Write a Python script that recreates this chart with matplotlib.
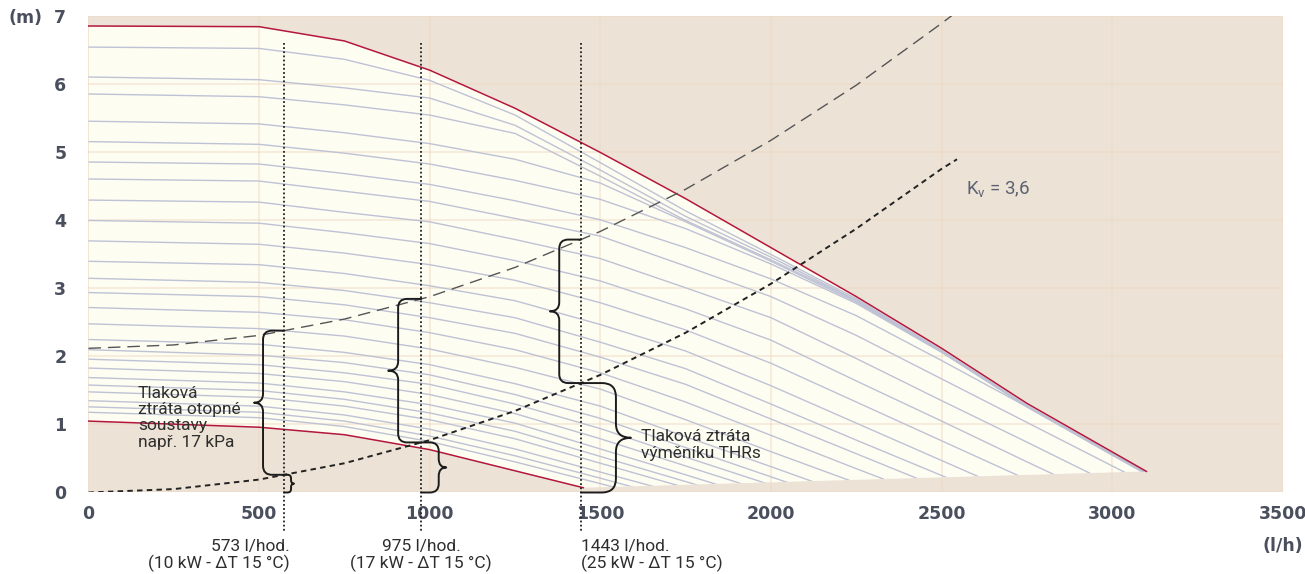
"""
Pump head chart of the circulator with system and THR losses.
"""
import numpy as np
import matplotlib.pyplot as plt
from matplotlib.path import Path
from matplotlib.patches import Polygon, PathPatch

plt.rcParams['mathtext.default'] = 'regular'

# max / min pump curve, head (m) over flow (l/h)
MAX_Q = [0, 500, 750, 1000, 1250, 1500, 1750, 2000, 2250, 2500, 2750, 3100]
MAX_H = [6.86, 6.85, 6.64, 6.21, 5.65, 5.00, 4.32, 3.60, 2.88, 2.12, 1.31, 0.31]
MIN_Q = [0, 500, 750, 1000, 1450]
MIN_H = [1.05, 0.96, 0.85, 0.63, 0.07]
END_Q = [1450, 3100]
END_H = [0.07, 0.31]

# intermediate speed steps, sampled on a common flow grid
STEP_Q = [0, 500, 750, 1000, 1250, 1500, 1750, 2000, 2250, 2500, 2750, 3000, 3250]
STEP_H = [
    [1.18, 1.10, 0.97, 0.75, 0.45, 0.13, -0.20],
    [1.26, 1.18, 1.05, 0.83, 0.54, 0.21, -0.13],
    [1.35, 1.27, 1.14, 0.93, 0.64, 0.30, -0.04, -0.39],
    [1.48, 1.40, 1.27, 1.07, 0.79, 0.43, 0.07, -0.29],
    [1.58, 1.50, 1.37, 1.17, 0.90, 0.53, 0.16, -0.21],
    [1.69, 1.61, 1.48, 1.29, 1.02, 0.64, 0.26, -0.13],
    [1.83, 1.75, 1.63, 1.44, 1.16, 0.79, 0.39, -0.01, -0.41],
    [1.96, 1.88, 1.76, 1.59, 1.30, 0.94, 0.52, 0.11, -0.31],
    [2.10, 2.02, 1.91, 1.73, 1.44, 1.09, 0.66, 0.23, -0.20],
    [2.25, 2.18, 2.06, 1.88, 1.60, 1.27, 0.82, 0.38, -0.07, -0.51],
    [2.48, 2.41, 2.30, 2.11, 1.84, 1.52, 1.07, 0.60, 0.14, -0.33],
    [2.72, 2.65, 2.54, 2.35, 2.10, 1.76, 1.33, 0.84, 0.35, -0.13],
    [2.94, 2.88, 2.76, 2.57, 2.34, 1.99, 1.59, 1.08, 0.57, 0.06, -0.45],
    [3.15, 3.09, 2.97, 2.79, 2.57, 2.21, 1.82, 1.30, 0.77, 0.25, -0.28],
    [3.40, 3.35, 3.22, 3.04, 2.82, 2.47, 2.08, 1.57, 1.02, 0.47, -0.08, -0.63],
    [3.70, 3.65, 3.52, 3.35, 3.12, 2.79, 2.39, 1.90, 1.33, 0.76, 0.19, -0.39],
    [4.00, 3.96, 3.82, 3.66, 3.41, 3.11, 2.70, 2.24, 1.64, 1.05, 0.45, -0.14],
    [4.30, 4.27, 4.12, 3.98, 3.72, 3.44, 3.01, 2.57, 1.97, 1.35, 0.74, 0.12, -0.50],
    [4.61, 4.58, 4.43, 4.28, 4.03, 3.77, 3.33, 2.88, 2.31, 1.67, 1.03, 0.39, -0.25],
    [4.86, 4.83, 4.69, 4.53, 4.29, 4.01, 3.60, 3.14, 2.60, 1.94, 1.26, 0.55, -0.15],
    [5.16, 5.12, 4.99, 4.83, 4.59, 4.31, 3.88, 3.36, 2.78, 2.06, 1.26, 0.55, -0.15],
    [5.46, 5.42, 5.29, 5.13, 4.90, 4.55, 3.98, 3.40, 2.80, 2.07, 1.26, 0.56, -0.14],
    [5.86, 5.82, 5.70, 5.55, 5.28, 4.65, 4.00, 3.42, 2.82, 2.07, 1.27, 0.56, -0.14],
    [6.11, 6.07, 5.95, 5.80, 5.40, 4.74, 4.06, 3.46, 2.83, 2.08, 1.27, 0.57, -0.13],
    [6.55, 6.53, 6.37, 6.06, 5.55, 4.85, 4.14, 3.50, 2.85, 2.09, 1.28, 0.57, -0.13],
]

# heating system loss curve (long dashes) and THR exchanger, Kv = 3.6
SYS_Q = [0, 250, 500, 750, 1000, 1250, 1500, 1750, 2000, 2250, 2500, 2550]
SYS_H = [2.12, 2.17, 2.31, 2.55, 2.88, 3.31, 3.84, 4.46, 5.18, 5.99, 6.90, 7.09]
KV_Q = [0, 250, 500, 750, 1000, 1250, 1500, 1750, 2000, 2250, 2500, 2545]
KV_H = [0.0, 0.05, 0.19, 0.43, 0.77, 1.20, 1.73, 2.35, 3.07, 3.88, 4.76, 4.90]

# duty points
DUTY_Q = [573, 975, 1443]
DUTY_LABELS = ['573 l/hod.\n(10 kW - ΔT 15 °C)',
               '975 l/hod.\n(17 kW - ΔT 15 °C)',
               '1443 l/hod.\n(25 kW - ΔT 15 °C)']

X_TICKS = [0, 500, 1000, 1500, 2000, 2500, 3000, 3500]
Y_TICKS = [0, 1, 2, 3, 4, 5, 6, 7]

BG = '#ECE3D6'
CREAM = '#FEFDF2'
GRID = '#EFD8C4'
RED = '#B3173D'
STEP_COL = '#BEC2D4'
LABEL_COL = '#4A4F5E'
TXT = '#2E2E2E'

# size of one pixel in data units (flow, head)
PX_Q = 3500 / 1194.5
PX_H = 7 / 476.0


def brace(ax, x, y0, y1, w, r, side='left', lw=1.4):
    """Curly brace between (x, y0) and (x, y1), tip pointing to side.
    w and r are given in pixels."""
    s = -1 if side == 'left' else 1
    xs = x + s * 0.7 * w * PX_Q
    xt = x + s * w * PX_Q
    rx = s * min(r, 0.7 * w) * PX_Q
    ry = r * PX_H
    ym = (y0 + y1) / 2
    verts = [(x, y1), (xs - rx, y1), (xs, y1), (xs, y1 - ry),
             (xs, ym + ry), (xs, ym), (xt, ym),
             (xs, ym), (xs, ym - ry),
             (xs, y0 + ry), (xs, y0), (xs - rx, y0), (x, y0)]
    codes = [Path.MOVETO, Path.LINETO, Path.CURVE3, Path.CURVE3,
             Path.LINETO, Path.CURVE3, Path.CURVE3,
             Path.CURVE3, Path.CURVE3,
             Path.LINETO, Path.CURVE3, Path.CURVE3, Path.LINETO]
    ax.add_patch(PathPatch(Path(verts, codes), fill=False, lw=lw,
                           edgecolor='#1C1C1C', capstyle='round',
                           joinstyle='round', zorder=6, clip_on=False))


fig = plt.figure(figsize=(13.05, 5.74), dpi=100)
ax = fig.add_axes([0.0678, 0.1420, 0.9153, 0.8293])
ax.set_facecolor(BG)
ax.set_xlim(0, 3500)
ax.set_ylim(0, 7)
for sp in ax.spines.values():
    sp.set_visible(False)

# working area of the pump
area = list(zip(MAX_Q, MAX_H)) + list(zip(END_Q[::-1], END_H[::-1])) \
    + list(zip(MIN_Q[::-1], MIN_H[::-1]))
patch = Polygon(area, closed=True, facecolor=CREAM, edgecolor='none',
                zorder=1)
ax.add_patch(patch)

# grid on top of the area
for xv in X_TICKS:
    ax.axvline(xv, color=GRID, lw=1.2, alpha=0.55, zorder=1.5)
for yv in Y_TICKS:
    ax.axhline(yv, color=GRID, lw=1.2, alpha=0.55, zorder=1.5)

# speed steps, cut to the working area
for row in STEP_H:
    q = STEP_Q[:len(row)]
    ln, = ax.plot(q, row, color=STEP_COL, lw=1.0, zorder=2)
    ln.set_clip_path(patch)

ax.plot(MAX_Q, MAX_H, color=RED, lw=1.1, zorder=3)
ax.plot(MIN_Q, MIN_H, color=RED, lw=1.1, zorder=3)

ax.plot(SYS_Q, SYS_H, color='#555555', lw=1.0, ls=(0, (9, 5)), zorder=4)
ax.plot(KV_Q, KV_H, color='#222222', lw=1.4, ls=(0, (2.8, 2.2)), zorder=4)
ax.text(KV_Q[-1] + 25, 4.47, 'K$_{v}$ = 3,6', fontsize=13.5, color='#5C6272',
        family='Roboto', va='center', ha='left')

# duty points: dotted flow lines, braces and labels
sys_at = np.interp(DUTY_Q, SYS_Q, SYS_H)
kv_at = np.interp(DUTY_Q, KV_Q, KV_H)
upper_w = [30, 33, 31]
lower_w = [10, 25, 50]
for i, q in enumerate(DUTY_Q):
    ax.plot([q, q], [6.61, -0.6], color='#222222', lw=1.3,
            ls=(0, (1, 1.3)), zorder=5, clip_on=False)
    brace(ax, q, kv_at[i], sys_at[i], upper_w[i], 9, side='left')
    brace(ax, q, 0, kv_at[i], lower_w[i], min(14, lower_w[i] * 0.35),
          side='right')
    ha = ['right', 'center', 'left'][i]
    dx = [6, 0, 0][i] * PX_Q
    ax.text(q + dx, -0.68, DUTY_LABELS[i], ha=ha, va='top', fontsize=12.5,
            family='Roboto', color=TXT, linespacing=1.1, multialignment=ha,
            clip_on=False)

ax.text(145, 1.10, 'Tlaková\nztráta otopné\nsoustavy\nnapř. 17 kPa',
        ha='left', va='center', fontsize=12.5, family='Roboto', color=TXT,
        linespacing=1.12, zorder=6)
ax.text(1620, 0.70, 'Tlaková ztráta\nvýměníku THRs', ha='left',
        va='center', fontsize=12.5, family='Roboto', color=TXT,
        linespacing=1.12, zorder=6)

# axes labels
ax.set_xticks(X_TICKS)
ax.set_yticks(Y_TICKS)
ax.tick_params(length=0, labelsize=12.5, labelcolor=LABEL_COL)
ax.tick_params(axis='x', pad=9)
ax.tick_params(axis='y', pad=16)
for lab in ax.get_xticklabels() + ax.get_yticklabels():
    lab.set_fontweight('bold')
fig.text(8 / 1305, 1 - 18 / 574, '(m)', fontsize=12.5, fontweight='bold',
         color=LABEL_COL, ha='left', va='center')
fig.text(1303 / 1305, 1 - 546 / 574, '(l/h)', fontsize=12.5,
         fontweight='bold', color=LABEL_COL, ha='right', va='center')

fig.savefig('out.png', dpi=100)
